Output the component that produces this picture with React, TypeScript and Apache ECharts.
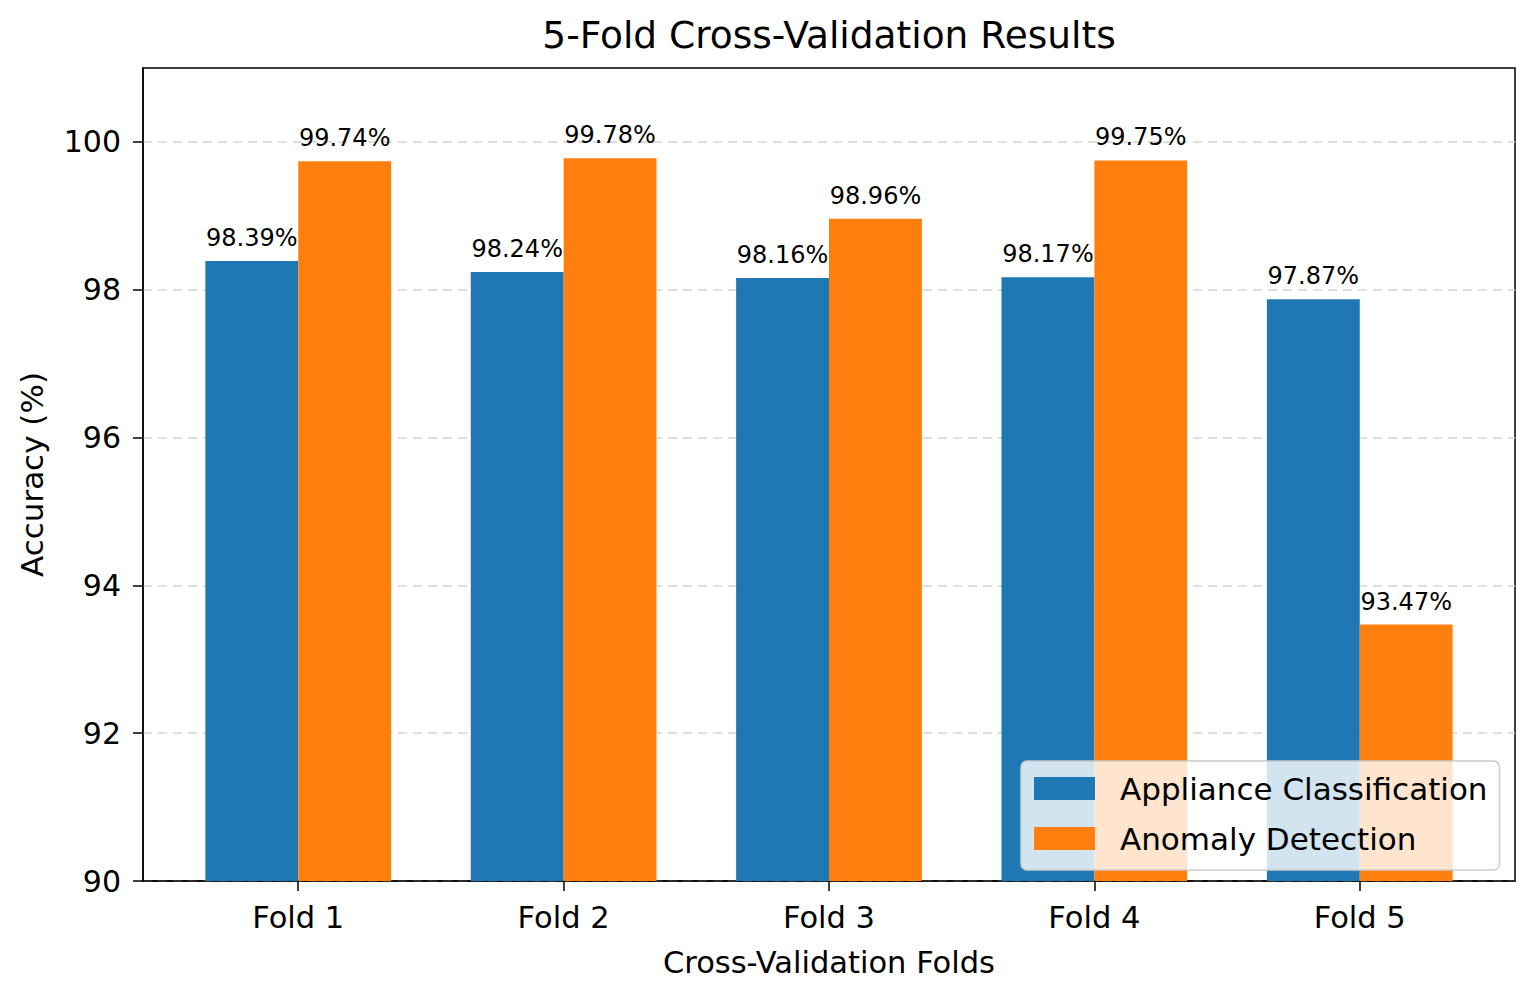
import React, { useEffect, useRef } from "react";
import * as echarts from "echarts";

const FOLDS = ["Fold 1", "Fold 2", "Fold 3", "Fold 4", "Fold 5"];
const APPLIANCE = [98.39, 98.24, 98.16, 98.17, 97.87];
const ANOMALY = [99.74, 99.78, 98.96, 99.75, 93.47];
const Y_TICKS = [90, 92, 94, 96, 98, 100];
const X_TICKS = [0, 1, 2, 3, 4];
const SERIES_NAMES = ["Appliance Classification", "Anomaly Detection"];
const COLORS = ["#1f77b4", "#ff7f0e"];

const FONT = "DejaVu Sans";
const BAR_W = 0.35;
const Y_MIN = 90;
const Y_MAX = 101;

function makeRender(offset: number, color: string) {
  return (params: any, api: any) => {
    const x = api.value(0) + offset;
    const v = api.value(1);
    const pTop = api.coord([x - BAR_W / 2, v]);
    const pBot = api.coord([x + BAR_W / 2, Y_MIN]);
    const cx = api.coord([x, v])[0];
    return {
      type: "group",
      children: [
        {
          type: "rect",
          shape: {
            x: pTop[0],
            y: pTop[1],
            width: pBot[0] - pTop[0],
            height: pBot[1] - pTop[1],
          },
          style: { fill: color },
        },
        {
          type: "text",
          x: cx,
          y: pTop[1] - 11,
          style: {
            text: v.toFixed(2) + "%",
            fontSize: 24,
            fontFamily: FONT,
            fill: "#000",
            align: "center",
            verticalAlign: "bottom",
          },
        },
      ],
    };
  };
}

export default function App() {
  const ref = useRef<HTMLDivElement>(null);
  useEffect(() => {
    if (!ref.current) return;
    const chart = echarts.init(ref.current, null, { renderer: "svg" });
    const option: any = {
      animation: false,
      backgroundColor: "#fff",
      title: {
        text: "5-Fold Cross-Validation Results",
        left: 829,
        top: 16,
        textAlign: "center",
        padding: 0,
        textStyle: { fontSize: 37.5, fontWeight: "normal", color: "#000", fontFamily: FONT },
      },
      grid: {
        left: 143,
        top: 68,
        right: 23,
        bottom: 110,
        show: true,
        borderColor: "#000",
        borderWidth: 1.5,
        backgroundColor: "transparent",
      },
      legend: {
        orient: "vertical",
        left: 1021,
        top: 761,
        padding: [12, 12, 16, 13],
        itemWidth: 61,
        itemHeight: 23,
        itemGap: 19,
        icon: "rect",
        backgroundColor: "rgba(255,255,255,0.8)",
        borderColor: "#cccccc",
        borderWidth: 1.5,
        borderRadius: 6,
        textStyle: { fontSize: 31, color: "#000", fontFamily: FONT, padding: [0, 0, 0, 20] },
        data: SERIES_NAMES,
      },
      xAxis: {
        type: "value",
        min: -0.585,
        max: 4.585,
        name: "Cross-Validation Folds",
        nameLocation: "middle",
        nameGap: 66,
        nameTextStyle: { fontSize: 30.5, color: "#000", fontFamily: FONT },
        axisLine: { show: true, onZero: false, lineStyle: { color: "#000", width: 1.5 } },
        axisTick: { show: true, length: 10, customValues: X_TICKS, lineStyle: { color: "#000", width: 1.5 } },
        axisLabel: {
          customValues: X_TICKS,
          formatter: (v: number) => FOLDS[Math.round(v)] ?? "",
          fontSize: 30.5,
          color: "#000",
          fontFamily: FONT,
          margin: 21,
        },
        splitLine: { show: false },
      },
      yAxis: {
        type: "value",
        min: Y_MIN,
        max: Y_MAX,
        interval: 2,
        name: "Accuracy (%)",
        nameLocation: "middle",
        nameGap: 96,
        nameTextStyle: { fontSize: 31, color: "#000", fontFamily: FONT },
        axisLine: { show: true, onZero: false, lineStyle: { color: "#000", width: 1.5 } },
        axisTick: { show: true, length: 10, customValues: Y_TICKS, lineStyle: { color: "#000", width: 1.5 } },
        axisLabel: { customValues: Y_TICKS, fontSize: 30, color: "#000", fontFamily: FONT, margin: 22 },
        splitLine: { show: true, lineStyle: { color: "#d3d3d3", type: [9, 6], width: 1.5 } },
      },
      series: [
        {
          type: "custom",
          name: SERIES_NAMES[0],
          itemStyle: { color: COLORS[0] },
          renderItem: makeRender(-BAR_W / 2, COLORS[0]),
          encode: { x: 0, y: 1 },
          data: APPLIANCE.map((v, i) => [i, v]),
          z: 2,
        },
        {
          type: "custom",
          name: SERIES_NAMES[1],
          itemStyle: { color: COLORS[1] },
          renderItem: makeRender(BAR_W / 2, COLORS[1]),
          encode: { x: 0, y: 1 },
          data: ANOMALY.map((v, i) => [i, v]),
          z: 2,
        },
      ],
    };
    chart.setOption(option);
    return () => chart.dispose();
  }, []);
  return (
    <div
      ref={ref}
      style={{ position: "absolute", left: 0, top: 0, width: 1538, height: 991, background: "#fff" }}
    />
  );
}
